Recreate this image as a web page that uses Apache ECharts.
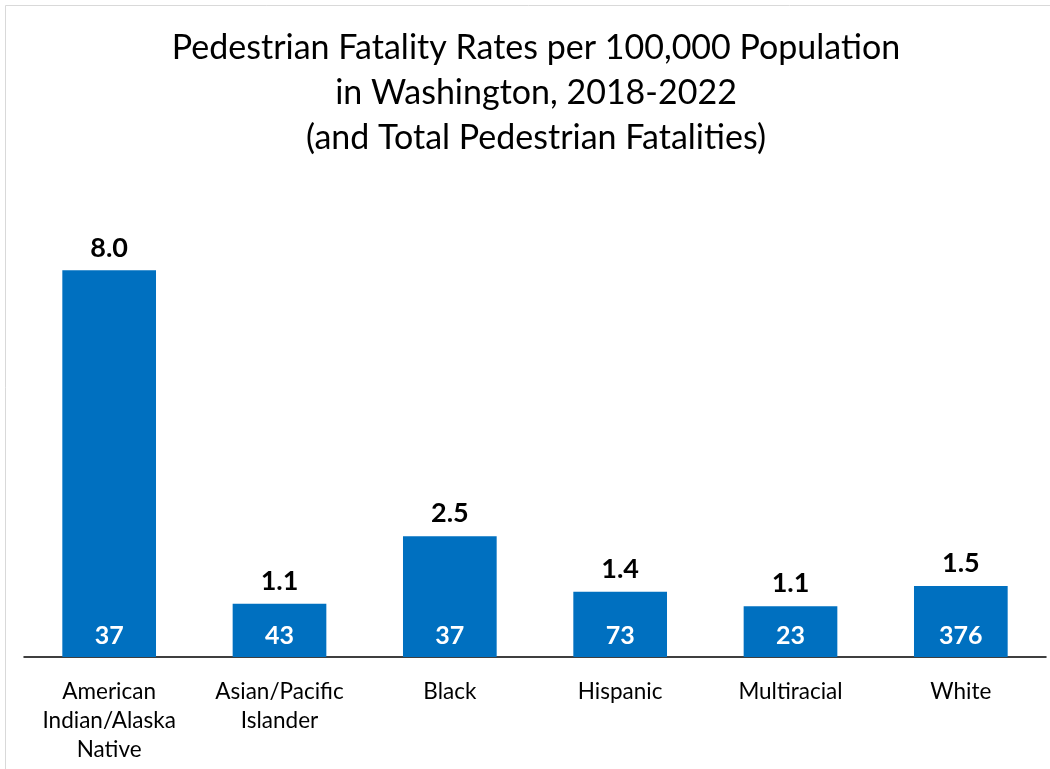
<!DOCTYPE html>
<html><head><meta charset="utf-8">
<script src="https://cdn.jsdelivr.net/npm/echarts@6/dist/echarts.min.js"></script>
<style>html,body{margin:0;padding:0;background:#fff}#c{width:1050px;height:769px}</style>
</head><body><div id="c"></div>
<script>
const categories = ['American\nIndian/Alaska\nNative', 'Asian/Pacific\nIslander', 'Black', 'Hispanic', 'Multiracial', 'White'];
const rates = [8.0, 1.1, 2.5, 1.35, 1.05, 1.47];
const rateLabels = ['8.0', '1.1', '2.5', '1.4', '1.1', '1.5'];
const fatalities = [37, 43, 37, 73, 23, 376];
const FONT = 'Lato, "Open Sans", sans-serif';

const chart = echarts.init(document.getElementById('c'));
chart.setOption({
  animation: false,
  backgroundColor: '#fff',
  title: {
    text: 'Pedestrian Fatality Rates per 100,000 Population\nin Washington, 2018-2022\n(and Total Pedestrian Fatalities)',
    left: 531, top: 21, textAlign: 'center',
    textStyle: { fontFamily: FONT, fontSize: 34, fontWeight: 'normal', color: '#000', lineHeight: 45 }
  },
  graphic: [{ type: 'rect', shape: { x: 5.5, y: 5.5, width: 1060, height: 800 }, style: { fill: 'none', stroke: '#d9d9d9', lineWidth: 1 }, silent: true }],
  grid: { left: 24, right: 4, top: 222, bottom: 112, containLabel: false },
  xAxis: {
    type: 'category', data: categories,
    axisLine: { lineStyle: { color: '#000', width: 1.5 } },
    axisTick: { show: false },
    axisLabel: { interval: 0, margin: 20, fontFamily: FONT, fontSize: 22.5, color: '#000', lineHeight: 29 }
  },
  yAxis: { type: 'value', min: 0, max: 9, show: false, splitLine: { show: false } },
  series: [
    {
      type: 'bar', data: rates, barWidth: '55%', barGap: '-100%',
      itemStyle: { color: '#0070C0' },
      label: { show: true, position: 'top', distance: 9, fontFamily: FONT, fontSize: 27, fontWeight: 'bold', color: '#000',
        formatter: p => rateLabels[p.dataIndex] }
    },
    {
      type: 'bar', data: rates, barWidth: '55%', barGap: '-100%',
      itemStyle: { color: 'transparent' }, silent: true,
      label: { show: true, position: 'insideBottom', distance: 9, fontFamily: FONT, fontSize: 25, fontWeight: 'bold', color: '#fff',
        formatter: p => String(fatalities[p.dataIndex]) }
    }
  ]
});
</script></body></html>
